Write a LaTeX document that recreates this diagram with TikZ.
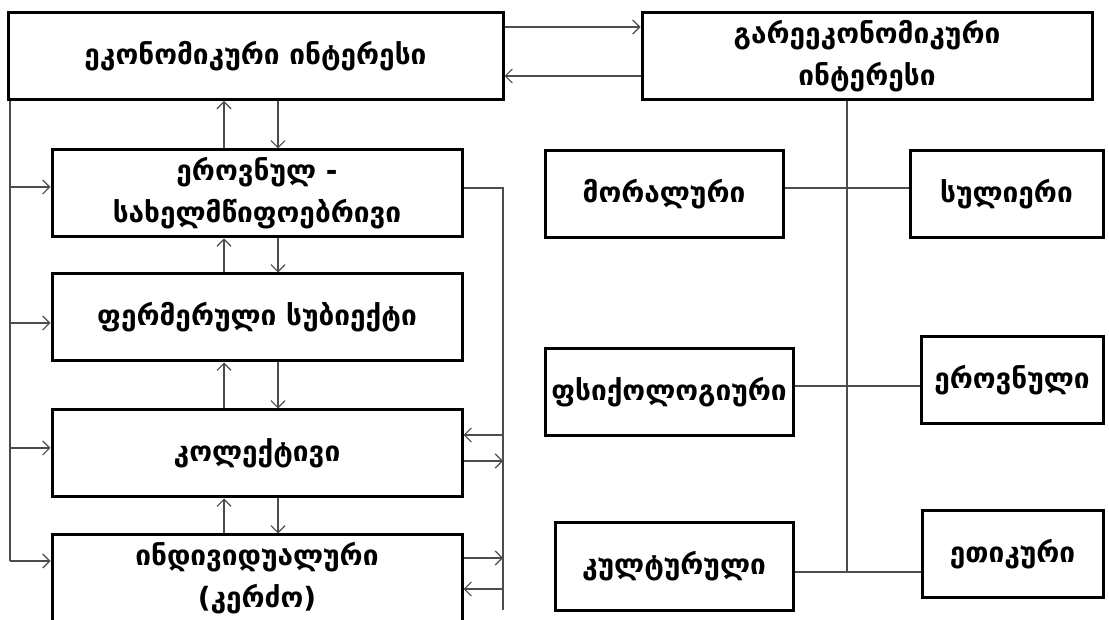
\documentclass[tikz,border=0pt]{standalone}
\usepackage{fontspec}
\newfontfamily\geofont{DejaVu Sans}
\usetikzlibrary{arrows.meta}
\definecolor{drawColor}{RGB}{0,0,0}
\definecolor{lineColor}{gray}{0.30}
\tikzset{
  box/.style={draw=drawColor,line width=3pt,minimum width=#1,minimum height=87pt,
    inner sep=0pt,align=center,font=\geofont\bfseries\fontsize{28pt}{42pt}\selectfont},
  link/.style={draw=lineColor,line width=1.2pt},
  arr/.style={link,-{Straight Barb[length=7pt,width=14pt]}}
}
\begin{document}
\begin{tikzpicture}[x=1pt,y=1pt]
\path[use as bounding box,fill=white] (0,0) rectangle (1109,619);

\node[box=495pt] (econ) at (255.5,563) {ეკონომიკური ინტერესი};
\node[box=450pt] (gare) at (867,562.5) {გარეეკონომიკური\\ინტერესი};

\node[box=410pt] (erovnul) at (257,425.5) {ეროვნულ -\\სახელმწიფოებრივი};
\node[box=410pt] (fermer) at (257,301.5) {ფერმერული სუბიექტი};
\node[box=410pt] (kolekt) at (257,165.5) {კოლექტივი};
\node[box=410pt] (individ) at (257,40.5) {ინდივიდუალური\\(კერძო)};

\node[box=238pt] (moral) at (664,425) {მორალური};
\node[box=193pt] (suli) at (1006.5,425) {სულიერი};
\node[box=248pt] (psych) at (669,227) {ფსიქოლოგიური};
\node[box=182pt] (erovnuli) at (1012,239) {ეროვნული};
\node[box=238pt] (kultur) at (674,52.5) {კულტურული};
\node[box=181pt] (etik) at (1012.5,65) {ეთიკური};

\draw[arr] (econ.east |- 0,592) -- (gare.west |- 0,592);
\draw[arr] (gare.west |- 0,543) -- (econ.east |- 0,543);

\foreach \upbox/\dnbox in {econ/erovnul,erovnul/fermer,fermer/kolekt,kolekt/individ}{
  \draw[arr] (\dnbox.north -| 224,0) -- (\upbox.south -| 224,0);
  \draw[arr] (\upbox.south -| 278,0) -- (\dnbox.north -| 278,0);
}

\coordinate (lbus) at (10,58);
\draw[link] (econ.south -| lbus) -- (lbus);
\foreach \nd/\yy in {erovnul/432,fermer/296,kolekt/171,individ/58}
  \draw[arr] (lbus |- 0,\yy) -- (\nd.west |- 0,\yy);

\coordinate (rbus) at (503,431);
\draw[link] (erovnul.east |- rbus) -- (rbus) -- (rbus |- 0,9);
\draw[arr] (rbus |- 0,184) -- (kolekt.east |- 0,184);
\draw[arr] (kolekt.east |- 0,158) -- (rbus |- 0,158);
\draw[arr] (individ.east |- 0,61) -- (rbus |- 0,61);
\draw[arr] (rbus |- 0,30) -- (individ.east |- 0,30);

\coordinate (hub) at (847,47);
\draw[link] (gare.south -| hub) -- (hub);
\draw[link] (moral.east |- 0,431) -- (suli.west |- 0,431);
\draw[link] (psych.east |- 0,233) -- (erovnuli.west |- 0,233);
\draw[link] (kultur.east |- hub) -- (etik.west |- hub);
\end{tikzpicture}
\end{document}
